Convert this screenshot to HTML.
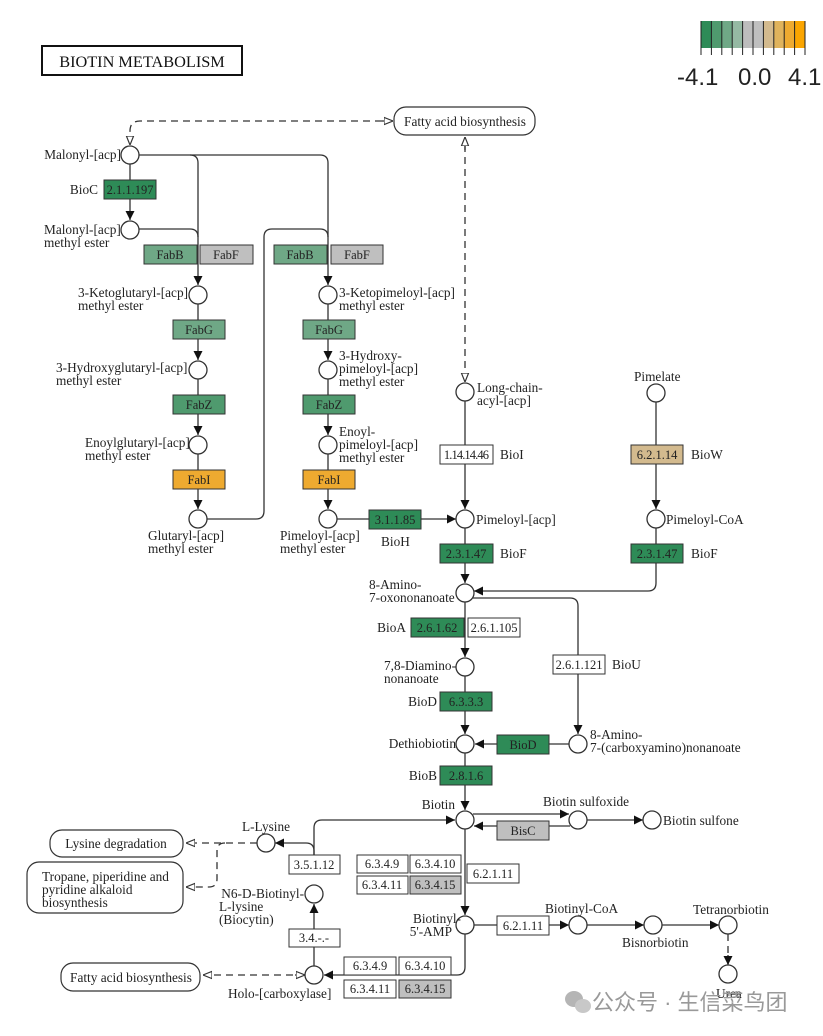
<!DOCTYPE html>
<html><head><meta charset="utf-8"><style>
html,body{margin:0;padding:0;background:#fff;}
svg{display:block;}
text{font-family:"Liberation Serif",serif;font-size:13.3px;fill:#222;}
.b{stroke:#333;stroke-width:1;}
.l{stroke:#333;stroke-width:1.3;fill:none;}
.d{stroke:#333;stroke-width:1.3;fill:none;stroke-dasharray:7,5;}
.c{fill:#fff;stroke:#333;stroke-width:1.3;}
.m{text-anchor:middle;}
.e{text-anchor:end;}
.bx text{font-size:12.5px;}
</style></head><body>
<svg width="823" height="1036" viewBox="0 0 823 1036" xmlns="http://www.w3.org/2000/svg">
<defs>
<marker id="a" viewBox="0 0 10 10" refX="10" refY="5" markerWidth="9" markerHeight="9" markerUnits="userSpaceOnUse" orient="auto"><path d="M0,0L10,5L0,10z" fill="#111"/></marker>
<marker id="h" viewBox="0 0 10 10" refX="10" refY="5" markerWidth="9" markerHeight="9" markerUnits="userSpaceOnUse" orient="auto"><path d="M0,1L10,5L0,9z" fill="#fff" stroke="#333" stroke-width="1.3"/></marker>
</defs>

<!-- Title -->
<rect x="42" y="46" width="200" height="29" fill="#fff" stroke="#111" stroke-width="2"/>
<text x="142" y="67" class="m" style="font-size:16.3px;fill:#111">BIOTIN  METABOLISM</text>

<!-- Legend -->
<rect x="701" y="21" width="10.4" height="27" fill="#2e8b57"/>
<rect x="711.4" y="21" width="10.4" height="27" fill="#4f9a6e"/>
<rect x="721.8" y="21" width="10.4" height="27" fill="#6fa886"/>
<rect x="732.2" y="21" width="10.4" height="27" fill="#95b9a3"/>
<rect x="742.6" y="21" width="10.4" height="27" fill="#bdbdbd"/>
<rect x="753" y="21" width="10.4" height="27" fill="#bfbfbf"/>
<rect x="763.4" y="21" width="10.4" height="27" fill="#d3ba8e"/>
<rect x="773.8" y="21" width="10.4" height="27" fill="#e0b35c"/>
<rect x="784.2" y="21" width="10.4" height="27" fill="#eeaa30"/>
<rect x="794.6" y="21" width="10.4" height="27" fill="#fba500"/>
<g stroke="#222" stroke-width="1">
<line x1="701" y1="21" x2="701" y2="55"/><line x1="711.4" y1="21" x2="711.4" y2="55"/><line x1="721.8" y1="21" x2="721.8" y2="55"/><line x1="732.2" y1="21" x2="732.2" y2="55"/><line x1="742.6" y1="21" x2="742.6" y2="55"/><line x1="753" y1="21" x2="753" y2="55"/><line x1="763.4" y1="21" x2="763.4" y2="55"/><line x1="773.8" y1="21" x2="773.8" y2="55"/><line x1="784.2" y1="21" x2="784.2" y2="55"/><line x1="794.6" y1="21" x2="794.6" y2="55"/><line x1="805" y1="21" x2="805" y2="55"/>
</g>
<g style="font-family:'Liberation Sans',sans-serif;font-size:24px;fill:#111">
<text x="677" y="85" style="font-family:'Liberation Sans',sans-serif;font-size:24px">-4.1</text>
<text x="738" y="85" style="font-family:'Liberation Sans',sans-serif;font-size:24px">0.0</text>
<text x="788" y="85" style="font-family:'Liberation Sans',sans-serif;font-size:24px">4.1</text>
</g>

<!-- Top fatty acid box -->
<rect x="394" y="107" width="141" height="28" rx="12" fill="#fff" stroke="#333" stroke-width="1.2"/>
<text x="465" y="126" class="m">Fatty acid biosynthesis</text>
<path class="d" d="M382,121 H140 Q130,121 130,131 V145" marker-end="url(#h)"/>
<line x1="382" y1="121" x2="393" y2="121" class="l" marker-end="url(#h)"/>
<path class="d" d="M465,145 V382" marker-end="url(#h)"/>
<line x1="465" y1="150" x2="465" y2="137" class="l" marker-end="url(#h)"/>

<!-- Left lines -->
<line x1="130" y1="164" x2="130" y2="220" class="l" marker-end="url(#a)"/>
<path class="l" d="M139,155 H190 Q198,155 198,163 V285" marker-end="url(#a)"/>
<path class="l" d="M190,155 H320 Q328,155 328,163 V285" marker-end="url(#a)"/>
<path class="l" d="M139,229 H190 Q198,229 198,237"/>
<line x1="198" y1="304" x2="198" y2="360" class="l" marker-end="url(#a)"/>
<line x1="198" y1="379" x2="198" y2="435" class="l" marker-end="url(#a)"/>
<line x1="198" y1="454" x2="198" y2="509" class="l" marker-end="url(#a)"/>
<path class="l" d="M207,519 H256 Q264,519 264,511 V237 Q264,229 272,229 H320 Q328,229 328,237"/>
<line x1="328" y1="304" x2="328" y2="360" class="l" marker-end="url(#a)"/>
<line x1="328" y1="379" x2="328" y2="435" class="l" marker-end="url(#a)"/>
<line x1="328" y1="454" x2="328" y2="509" class="l" marker-end="url(#a)"/>
<line x1="337" y1="519" x2="456" y2="519" class="l" marker-end="url(#a)"/>

<!-- Central column -->
<line x1="465" y1="401" x2="465" y2="509" class="l" marker-end="url(#a)"/>
<line x1="465" y1="528" x2="465" y2="583" class="l" marker-end="url(#a)"/>
<line x1="465" y1="602" x2="465" y2="657" class="l" marker-end="url(#a)"/>
<line x1="465" y1="676" x2="465" y2="734" class="l" marker-end="url(#a)"/>
<line x1="465" y1="753" x2="465" y2="810" class="l" marker-end="url(#a)"/>
<line x1="465" y1="829" x2="465" y2="915" class="l" marker-end="url(#a)"/>
<path class="l" d="M465,934 V967 Q465,975 457,975 H324" marker-end="url(#a)"/>
<path class="l" d="M473,598 H570 Q578,598 578,606 V734" marker-end="url(#a)"/>
<line x1="569" y1="744" x2="475" y2="744" class="l" marker-end="url(#a)"/>
<line x1="656" y1="402" x2="656" y2="509" class="l" marker-end="url(#a)"/>
<path class="l" d="M656,528 V583 Q656,591 648,591 H474" marker-end="url(#a)"/>

<!-- Biotin area -->
<line x1="473" y1="814" x2="569" y2="814" class="l" marker-end="url(#a)"/>
<line x1="570" y1="826" x2="474" y2="826" class="l" marker-end="url(#a)"/>
<line x1="587" y1="820" x2="643" y2="820" class="l" marker-end="url(#a)"/>
<path class="l" d="M314,855 V828 Q314,820 322,820 H455" marker-end="url(#a)"/>
<path class="l" d="M314,855 V851 Q314,843 306,843 H275" marker-end="url(#a)"/>
<line x1="314" y1="966" x2="314" y2="904" class="l" marker-end="url(#a)"/>
<line x1="474" y1="925" x2="569" y2="925" class="l" marker-end="url(#a)"/>
<line x1="587" y1="925" x2="644" y2="925" class="l" marker-end="url(#a)"/>
<line x1="662" y1="925" x2="719" y2="925" class="l" marker-end="url(#a)"/>
<path class="d" d="M728,934 V964" />
<line x1="728" y1="955" x2="728" y2="965" class="l" marker-end="url(#a)"/>

<!-- dashed lower left -->
<path class="d" d="M257,843 H186" marker-end="url(#h)"/>
<path class="d" d="M225,843 Q217,843 217,851 V879 Q217,887 209,887 H186" marker-end="url(#h)"/>
<path class="d" d="M305,975 H203" marker-end="url(#h)"/>
<line x1="295" y1="975" x2="305" y2="975" class="l" marker-end="url(#h)"/>

<!-- Circles -->
<g class="c">
<circle cx="130" cy="155" r="9"/><circle cx="130" cy="230" r="9"/>
<circle cx="198" cy="295" r="9"/><circle cx="198" cy="370" r="9"/><circle cx="198" cy="445" r="9"/><circle cx="198" cy="519" r="9"/>
<circle cx="328" cy="295" r="9"/><circle cx="328" cy="370" r="9"/><circle cx="328" cy="445" r="9"/><circle cx="328" cy="519" r="9"/>
<circle cx="465" cy="392" r="9"/><circle cx="465" cy="519" r="9"/><circle cx="465" cy="593" r="9"/><circle cx="465" cy="667" r="9"/><circle cx="465" cy="744" r="9"/><circle cx="465" cy="820" r="9"/><circle cx="465" cy="925" r="9"/>
<circle cx="656" cy="393" r="9"/><circle cx="656" cy="519" r="9"/><circle cx="578" cy="744" r="9"/>
<circle cx="578" cy="820" r="9"/><circle cx="652" cy="820" r="9"/>
<circle cx="578" cy="925" r="9"/><circle cx="653" cy="925" r="9"/><circle cx="728" cy="925" r="9"/><circle cx="728" cy="974" r="9"/>
<circle cx="266" cy="843" r="9"/><circle cx="314" cy="894" r="9"/><circle cx="314" cy="975" r="9"/>
</g>

<!-- Boxes -->
<g class="b">
<rect x="104" y="180" width="52" height="19" fill="#2e8b57"/>
<rect x="144" y="245" width="53" height="19" fill="#6fa886"/><rect x="200" y="245" width="53" height="19" fill="#bfbfbf"/>
<rect x="274" y="245" width="53" height="19" fill="#6fa886"/><rect x="331" y="245" width="52" height="19" fill="#bfbfbf"/>
<rect x="173" y="320" width="52" height="19" fill="#6fa886"/><rect x="173" y="395" width="52" height="19" fill="#4f9a6e"/><rect x="173" y="470" width="52" height="19" fill="#eeaa30"/>
<rect x="303" y="320" width="52" height="19" fill="#6fa886"/><rect x="303" y="395" width="52" height="19" fill="#4f9a6e"/><rect x="303" y="470" width="52" height="19" fill="#eeaa30"/>
<rect x="369" y="510" width="52" height="19" fill="#2e8b57"/>
<rect x="440" y="445" width="53" height="19" fill="#fff"/>
<rect x="440" y="544" width="53" height="19" fill="#2e8b57"/>
<rect x="411" y="618" width="53" height="19" fill="#2e8b57"/><rect x="468" y="618" width="52" height="19" fill="#fff"/>
<rect x="440" y="692" width="52" height="19" fill="#2e8b57"/>
<rect x="497" y="735" width="52" height="19" fill="#2e8b57"/>
<rect x="440" y="766" width="52" height="19" fill="#2e8b57"/>
<rect x="553" y="655" width="52" height="19" fill="#fff"/>
<rect x="631" y="445" width="52" height="19" fill="#d3ba8e"/>
<rect x="631" y="544" width="52" height="19" fill="#2e8b57"/>
<rect x="497" y="821" width="52" height="19" fill="#bfbfbf"/>
<rect x="357" y="855" width="51" height="18" fill="#fff"/><rect x="410" y="855" width="51" height="18" fill="#fff"/>
<rect x="357" y="876" width="51" height="18" fill="#fff"/><rect x="410" y="876" width="51" height="18" fill="#bfbfbf"/>
<rect x="467" y="864" width="52" height="19" fill="#fff"/>
<rect x="497" y="916" width="52" height="19" fill="#fff"/>
<rect x="289" y="855" width="51" height="19" fill="#fff"/>
<rect x="289" y="929" width="51" height="18" fill="#fff"/>
<rect x="344" y="957" width="52" height="18" fill="#fff"/><rect x="399" y="957" width="52" height="18" fill="#fff"/>
<rect x="344" y="980" width="52" height="18" fill="#fff"/><rect x="399" y="980" width="52" height="18" fill="#bfbfbf"/>
</g>
<g class="m bx">
<text x="130" y="194">2.1.1.197</text>
<text x="170" y="259">FabB</text><text x="226" y="259">FabF</text>
<text x="300" y="259">FabB</text><text x="357" y="259">FabF</text>
<text x="199" y="334">FabG</text><text x="199" y="409">FabZ</text><text x="199" y="484">FabI</text>
<text x="329" y="334">FabG</text><text x="329" y="409">FabZ</text><text x="329" y="484">FabI</text>
<text x="395" y="524">3.1.1.85</text>
<text x="466" y="459" style="letter-spacing:-0.9px">1.14.14.46</text>
<text x="466" y="558">2.3.1.47</text>
<text x="437" y="632">2.6.1.62</text><text x="494" y="632">2.6.1.105</text>
<text x="466" y="706">6.3.3.3</text>
<text x="523" y="749">BioD</text>
<text x="466" y="780">2.8.1.6</text>
<text x="579" y="669">2.6.1.121</text>
<text x="657" y="459">6.2.1.14</text>
<text x="657" y="558">2.3.1.47</text>
<text x="523" y="835">BisC</text>
<text x="382" y="868">6.3.4.9</text><text x="435" y="868">6.3.4.10</text>
<text x="382" y="889">6.3.4.11</text><text x="435" y="889">6.3.4.15</text>
<text x="493" y="878">6.2.1.11</text>
<text x="523" y="930">6.2.1.11</text>
<text x="314" y="869">3.5.1.12</text>
<text x="314" y="942">3.4.-.-</text>
<text x="370" y="970">6.3.4.9</text><text x="425" y="970">6.3.4.10</text>
<text x="370" y="993">6.3.4.11</text><text x="425" y="993">6.3.4.15</text>
</g>

<!-- Labels -->
<text x="121" y="159" class="e">Malonyl-[acp]</text>
<text x="98" y="194" class="e">BioC</text>
<text x="44" y="234">Malonyl-[acp]</text><text x="44" y="247">methyl ester</text>
<text x="78" y="297">3-Ketoglutaryl-[acp]</text><text x="78" y="310">methyl ester</text>
<text x="56" y="372">3-Hydroxyglutaryl-[acp]</text><text x="56" y="385">methyl ester</text>
<text x="85" y="447">Enoylglutaryl-[acp]</text><text x="85" y="460">methyl ester</text>
<text x="148" y="540">Glutaryl-[acp]</text><text x="148" y="553">methyl ester</text>
<text x="339" y="297">3-Ketopimeloyl-[acp]</text><text x="339" y="310">methyl ester</text>
<text x="339" y="360">3-Hydroxy-</text><text x="339" y="373">pimeloyl-[acp]</text><text x="339" y="386">methyl ester</text>
<text x="339" y="436">Enoyl-</text><text x="339" y="449">pimeloyl-[acp]</text><text x="339" y="462">methyl ester</text>
<text x="280" y="540">Pimeloyl-[acp]</text><text x="280" y="553">methyl ester</text>
<text x="381" y="546">BioH</text>
<text x="477" y="392">Long-chain-</text><text x="477" y="405">acyl-[acp]</text>
<text x="500" y="459">BioI</text>
<text x="476" y="524">Pimeloyl-[acp]</text>
<text x="634" y="381">Pimelate</text>
<text x="691" y="459">BioW</text>
<text x="666" y="524">Pimeloyl-CoA</text>
<text x="500" y="558">BioF</text>
<text x="691" y="558">BioF</text>
<text x="369" y="589">8-Amino-</text><text x="369" y="602">7-oxononanoate</text>
<text x="406" y="632" class="e">BioA</text>
<text x="384" y="670">7,8-Diamino-</text><text x="384" y="683">nonanoate</text>
<text x="437" y="706" class="e">BioD</text>
<text x="612" y="669">BioU</text>
<text x="456" y="748" class="e">Dethiobiotin</text>
<text x="590" y="739">8-Amino-</text><text x="590" y="752">7-(carboxyamino)nonanoate</text>
<text x="437" y="780" class="e">BioB</text>
<text x="455" y="809" class="e">Biotin</text>
<text x="543" y="806">Biotin sulfoxide</text>
<text x="663" y="825">Biotin sulfone</text>
<text x="242" y="831">L-Lysine</text>
<text x="461" y="923" class="e">Biotinyl-</text><text x="452" y="936" class="e">5'-AMP</text>
<text x="545" y="913">Biotinyl-CoA</text>
<text x="622" y="947">Bisnorbiotin</text>
<text x="693" y="914">Tetranorbiotin</text>
<text x="716" y="998">Urea</text>
<text x="304" y="898" class="e">N6-D-Biotinyl-</text><text x="219" y="911">L-lysine</text><text x="219" y="924">(Biocytin)</text>
<text x="228" y="998">Holo-[carboxylase]</text>

<!-- Map boxes -->
<rect x="50" y="830" width="133" height="27" rx="12" fill="#fff" stroke="#333" stroke-width="1.2"/>
<text x="116" y="848" class="m">Lysine degradation</text>
<rect x="27" y="862" width="156" height="51" rx="12" fill="#fff" stroke="#333" stroke-width="1.2"/>
<text x="42" y="881">Tropane, piperidine and</text><text x="42" y="894">pyridine alkaloid</text><text x="42" y="907">biosynthesis</text>
<rect x="61" y="963" width="139" height="28" rx="12" fill="#fff" stroke="#333" stroke-width="1.2"/>
<text x="131" y="982" class="m">Fatty acid biosynthesis</text>

<!-- Watermark -->
<ellipse cx="574" cy="999" rx="9" ry="8" fill="#b5b5b5"/>
<ellipse cx="583" cy="1006" rx="8" ry="7" fill="#c8c8c8"/>
<text x="592" y="1010" style="font-family:'Liberation Sans','Noto Sans CJK SC',sans-serif;font-size:22px;fill:#999">公众号 · 生信菜鸟团</text>
</svg>
</body></html>
